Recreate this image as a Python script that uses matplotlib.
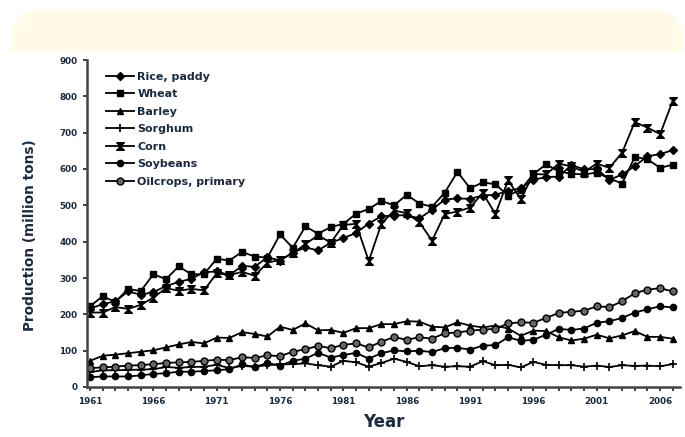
import matplotlib
matplotlib.use("Agg")
import matplotlib.pyplot as plt
from matplotlib.patches import FancyBboxPatch, Rectangle
from matplotlib.transforms import IdentityTransform
from matplotlib.ticker import MultipleLocator, FixedLocator

years = list(range(1961, 2008))

rice = [216, 228, 236, 263, 254, 261, 278, 289, 298, 316, 318, 308, 333, 331, 357,
        348, 370, 384, 376, 397, 410, 424, 450, 470, 472, 473, 464, 488, 516, 519,
        518, 527, 529, 540, 547, 570, 578, 579, 611, 599, 600, 570, 585, 608, 635,
        641, 652]
wheat = [222, 250, 234, 270, 264, 310, 297, 332, 310, 311, 353, 348, 372, 359, 356,
         420, 383, 442, 422, 440, 449, 477, 490, 512, 500, 529, 505, 496, 535, 592,
         547, 563, 558, 527, 543, 586, 613, 593, 587, 585, 590, 574, 560, 633, 627,
         603, 612]
barley = [72, 86, 89, 93, 97, 101, 109, 117, 124, 120, 136, 135, 151, 146, 139,
          166, 157, 175, 156, 157, 149, 162, 162, 173, 173, 181, 180, 166, 164, 178,
          169, 164, 169, 161, 141, 155, 154, 137, 128, 133, 144, 134, 142, 154, 138,
          138, 133]
sorghum = [41, 46, 46, 47, 48, 49, 55, 53, 55, 56, 61, 52, 58, 56, 60,
           62, 63, 65, 60, 56, 72, 68, 56, 66, 78, 69, 57, 60, 56, 57,
           56, 71, 60, 61, 54, 69, 61, 60, 60, 56, 59, 55, 60, 58, 59,
           57, 63]
corn = [205, 205, 220, 215, 226, 246, 272, 265, 270, 266, 313, 308, 317, 306, 342,
        350, 368, 393, 418, 397, 446, 449, 347, 449, 486, 478, 453, 403, 476, 483,
        494, 534, 476, 569, 517, 586, 585, 615, 607, 592, 615, 603, 645, 729, 714,
        696, 788]
soybeans = [27, 29, 29, 29, 32, 36, 38, 42, 42, 44, 46, 49, 62, 55, 66,
            59, 72, 78, 94, 81, 88, 94, 78, 93, 101, 98, 100, 96, 107, 108,
            103, 114, 115, 137, 127, 130, 144, 160, 157, 161, 177, 181, 190, 205, 214,
            222, 219]
oilcrops = [52, 54, 56, 59, 60, 63, 66, 68, 69, 72, 75, 74, 82, 80, 87,
            85, 97, 104, 113, 107, 116, 120, 109, 125, 137, 130, 137, 133, 148, 150,
            155, 158, 160, 175, 178, 177, 190, 204, 207, 210, 222, 220, 236, 258, 268,
            272, 263]

series_names = ["Rice, paddy", "Wheat", "Barley", "Sorghum", "Corn", "Soybeans",
                "Oilcrops, primary"]
series_values = [rice, wheat, barley, sorghum, corn, soybeans, oilcrops]

major_years = list(range(1961, 2007, 5))
y_ticks = list(range(0, 1000, 100))

hourglass = [(-1, 1), (1, 1), (-1, -1), (1, -1), (-1, 1)]
styles = [
    dict(marker="D", ms=4, mfc="black"),
    dict(marker="s", ms=5, mfc="black"),
    dict(marker="^", ms=5, mfc="black"),
    dict(marker="+", ms=5.5, mew=1.2),
    dict(marker=hourglass, ms=5.5, mfc="black"),
    dict(marker="o", ms=4.5, mfc="black"),
    dict(marker="o", ms=5, mfc="#666666"),
]

plt.rcParams["font.family"] = ["DejaVu Sans"]
fig = plt.figure(figsize=(6.85, 4.37), dpi=100)
H = 437

# cream band with rounded top corners (pixel coordinates)
band = FancyBboxPatch((11, H - 100), 672, 90,
                      boxstyle="round,pad=0,rounding_size=30",
                      transform=IdentityTransform(), facecolor="#FFFBE6",
                      edgecolor="none", zorder=0)
clip = Rectangle((0, H - 52), 685, 52, transform=IdentityTransform())
band.set_clip_path(clip)
fig.patches.append(band)

ax = fig.add_axes([87 / 685, 1 - 387 / 437, (680 - 87) / 685, (387 - 60) / 437])
for name, vals, st in zip(series_names, series_values, styles):
    ax.plot(years, vals, color="black", lw=1.3, mec="black", label=name, **st)

ax.set_xlim(1960.76, 2007.57)
ax.set_ylim(0, 900)
ax.xaxis.set_major_locator(FixedLocator(major_years))
ax.xaxis.set_minor_locator(MultipleLocator(1))
ax.set_xticks(major_years)
ax.set_xticklabels([str(y) for y in major_years])
ax.set_yticks(y_ticks)
for s in ["top", "right"]:
    ax.spines[s].set_visible(False)
for s in ["left", "bottom"]:
    ax.spines[s].set_linewidth(1.8)
    ax.spines[s].set_color("#444444")
ax.tick_params(axis="both", which="major", direction="out", length=3, width=1.2,
               labelsize=6.3, colors="#222222", pad=4)
ax.tick_params(axis="x", which="minor", direction="out", length=3, width=1.2,
               colors="#222222")
for lab in ax.get_xticklabels() + ax.get_yticklabels():
    lab.set_fontweight("bold")
    lab.set_color("#1a2a40")

ax.set_xlabel("Year", fontsize=12, fontweight="bold", color="#1a2a40", labelpad=5)
ax.set_ylabel("Production (million tons)", fontsize=9.8, fontweight="bold",
              color="#1a2a40", labelpad=12)
ax.yaxis.set_label_coords(-0.085, 0.465)

leg = ax.legend(loc="upper left", bbox_to_anchor=(0.02, 0.985), frameon=False,
                fontsize=8, handlelength=2.6, handletextpad=0.25,
                labelspacing=0.68, borderaxespad=0.2)
for t in leg.get_texts():
    t.set_fontweight("bold")
    t.set_color("#1a2a40")

fig.savefig("out.png", dpi=100)
